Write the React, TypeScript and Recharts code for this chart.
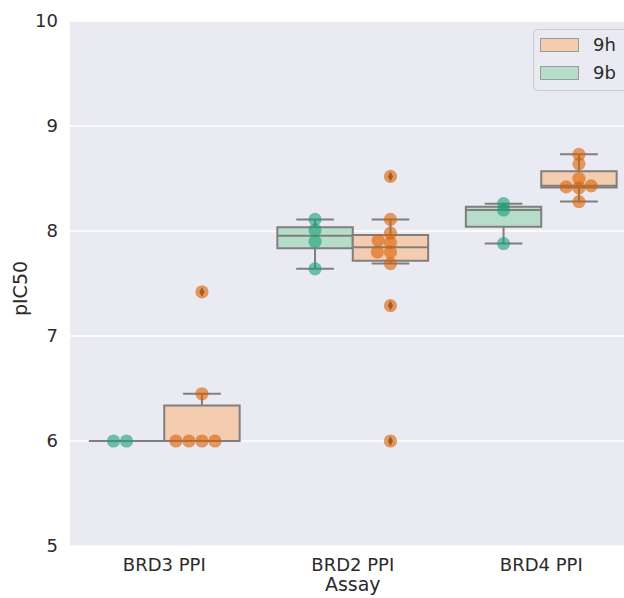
import React from 'react';
import {
  ComposedChart,
  XAxis,
  YAxis,
  CartesianGrid,
  Scatter,
  ReferenceArea,
  ReferenceLine,
  Legend,
} from 'recharts';

// ---------------- data ----------------
const CATEGORIES = ['BRD3 PPI', 'BRD2 PPI', 'BRD4 PPI'];
const Y_TICKS = [5, 6, 7, 8, 9, 10];
const X_LABEL = 'Assay';
const Y_LABEL = 'pIC50';

// pIC50 values per assay (same order as CATEGORIES)
const VALUES_9B = [
  [6.0, 6.0],
  [7.64, 7.9, 8.01, 8.11],
  [7.88, 8.2, 8.26],
];
const VALUES_9H = [
  [6.0, 6.0, 6.0, 6.0, 6.45, 7.42],
  [6.0, 7.29, 7.69, 7.8, 7.8, 7.89, 7.91, 7.98, 8.11, 8.52],
  [8.28, 8.41, 8.42, 8.43, 8.5, 8.64, 8.73],
];
const LEGEND_ORDER = ['9h', '9b'];

// ---------------- layout / style ----------------
const CHART_W = 640;
const CHART_H = 598;
const MARGIN = { top: 21, right: 4.5, bottom: 12, left: 10 };
const Y_AXIS_W = 60;
const X_AXIS_H = 40;
const PLOT_W = CHART_W - MARGIN.left - MARGIN.right - Y_AXIS_W;
const PLOT_H = CHART_H - MARGIN.top - MARGIN.bottom - X_AXIS_H;
const X_DOMAIN: [number, number] = [-0.5, 2.5];
const Y_DOMAIN: [number, number] = [5, 10];
const PX_PER_X = PLOT_W / (X_DOMAIN[1] - X_DOMAIN[0]);
const PX_PER_Y = PLOT_H / (Y_DOMAIN[1] - Y_DOMAIN[0]);
const SWARM_Y_STRETCH = 2;
const DOT_R = 6.6;
const SWARM_D = 12.4;
const BOX_W = 0.4;
const CAP_W = 0.2;
const EDGE = '#7f7f7f';
const FONT = "'DejaVu Sans', sans-serif";
const TEXT_COLOR = '#2b2b2b';

const HUES = [
  { name: '9b', values: VALUES_9B, offset: -0.2, boxFill: '#b6ddc9', dot: '#1b9e77' },
  { name: '9h', values: VALUES_9H, offset: 0.2, boxFill: '#f4cdb1', dot: '#d95f02' },
];

// ---------------- helpers ----------------
function pct(sorted: number[], p: number) {
  const idx = (sorted.length - 1) * p;
  const lo = Math.floor(idx);
  const hi = Math.ceil(idx);
  return sorted[lo] + (sorted[hi] - sorted[lo]) * (idx - lo);
}

function boxStats(values: number[]) {
  const s = [...values].sort((a, b) => a - b);
  const q1 = pct(s, 0.25);
  const med = pct(s, 0.5);
  const q3 = pct(s, 0.75);
  const iqr = q3 - q1;
  const loF = q1 - 1.5 * iqr;
  const hiF = q3 + 1.5 * iqr;
  const inside = s.filter((v) => v >= loF - 1e-9 && v <= hiF + 1e-9);
  const fliers = s.filter((v) => v < loF - 1e-9 || v > hiF + 1e-9);
  return { q1, med, q3, wLo: inside[0], wHi: inside[inside.length - 1], fliers };
}

// beeswarm offsets (px), seaborn-style
function swarm(values: number[]): number[] {
  const d = SWARM_D;
  const order = values.map((_, i) => i).sort((a, b) => values[a] - values[b]);
  const placed: { x: number; y: number }[] = [];
  const out = new Array(values.length).fill(0);
  for (const i of order) {
    const y = values[i] * PX_PER_Y * SWARM_Y_STRETCH;
    const neighbors = placed.filter((p) => Math.abs(p.y - y) < d);
    const cands: number[] = [0];
    let leftFirst = true;
    for (const n of neighbors) {
      const dy = y - n.y;
      const dx = Math.sqrt(Math.max(d * d - dy * dy, 0)) * 1.05;
      const l = n.x - dx;
      const r = n.x + dx;
      if (leftFirst) cands.push(l, r);
      else cands.push(r, l);
      leftFirst = !leftFirst;
    }
    const sorted = cands
      .map((c, k) => ({ c, k }))
      .sort((a, b) => Math.abs(a.c) - Math.abs(b.c) || a.k - b.k)
      .map((o) => o.c);
    const chosen =
      sorted.find((c) =>
        neighbors.every((n) => (n.x - c) ** 2 + (n.y - y) ** 2 >= d * d - 1e-6)
      ) ?? 0;
    placed.push({ x: chosen, y });
    out[i] = chosen;
  }
  return out;
}

const BOXES = HUES.flatMap((h) =>
  CATEGORIES.map((_, ci) => ({
    key: `${h.name}-${ci}`,
    center: ci + h.offset,
    fill: h.boxFill,
    ...boxStats(h.values[ci]),
  }))
);

const DOTS = HUES.map((h) => ({
  name: h.name,
  color: h.dot,
  data: CATEGORIES.flatMap((_, ci) => {
    const vals = h.values[ci];
    const offs = swarm(vals);
    return vals.map((v, k) => ({ x: ci + h.offset + offs[k] / PX_PER_X, y: v }));
  }),
}));

const FLIERS = BOXES.flatMap((b) => b.fliers.map((v) => ({ x: b.center, y: v })));

// ---------------- shapes ----------------
const Dot = (color: string) => (props: any) => {
  if (props.cx == null || props.cy == null) return null;
  return <circle cx={props.cx} cy={props.cy} r={DOT_R} fill={color} fillOpacity={0.6} />;
};

const Diamond = (props: any) => {
  if (props.cx == null || props.cy == null) return null;
  const { cx, cy } = props;
  return (
    <path
      d={`M${cx},${cy - 5} L${cx + 2.6},${cy} L${cx},${cy + 5} L${cx - 2.6},${cy} Z`}
      fill="#5a5a5a"
    />
  );
};

const LegendBox = () => (
  <div
    style={{
      width: 110,
      height: 62,
      border: '1px solid #cccccc',
      borderRadius: 4,
      background: '#eaeaf2',
      boxSizing: 'border-box',
      fontFamily: FONT,
      fontSize: 18,
      color: TEXT_COLOR,
      position: 'relative',
    }}
  >
    {LEGEND_ORDER.map((name, i) => {
      const h = HUES.find((x) => x.name === name)!;
      return (
        <div key={name} style={{ position: 'absolute', left: 6, top: 7 + i * 28, height: 16, display: 'flex', alignItems: 'center' }}>
          <div style={{ width: 39, height: 14, background: h.boxFill, border: '1px solid #9a9a9a', boxSizing: 'border-box' }} />
          <span style={{ marginLeft: 14, lineHeight: '16px' }}>{name}</span>
        </div>
      );
    })}
  </div>
);

export default function App() {
  return (
    <div
      style={{
        position: 'absolute',
        left: 0,
        top: 0,
        width: 624,
        height: 598,
        overflow: 'hidden',
        background: '#ffffff',
      }}
    >
      <ComposedChart width={CHART_W} height={CHART_H} margin={MARGIN}>
        <CartesianGrid vertical={false} stroke="#ffffff" strokeWidth={1.3} fill="#eaeaf2" fillOpacity={1} />
        <XAxis
          type="number"
          dataKey="x"
          domain={X_DOMAIN}
          ticks={[0, 1, 2]}
          interval={0}
          allowDataOverflow
          tickFormatter={(v: number) => CATEGORIES[v] ?? ''}
          axisLine={false}
          tickLine={false}
          tickSize={0}
          tickMargin={12}
          height={X_AXIS_H}
          tick={{ fontSize: 18, fill: TEXT_COLOR, fontFamily: FONT }}
          label={(p: any) => {
            const vb = p.viewBox;
            return (
              <text x={vb.x + vb.width / 2} y={vb.y + 45} textAnchor="middle" fontSize={19} fontFamily={FONT} fill={TEXT_COLOR}>
                {X_LABEL}
              </text>
            );
          }}
        />
        <YAxis
          type="number"
          dataKey="y"
          domain={Y_DOMAIN}
          ticks={Y_TICKS}
          interval={0}
          allowDataOverflow
          axisLine={false}
          tickLine={false}
          tickSize={0}
          tickMargin={12}
          width={Y_AXIS_W}
          tick={{ fontSize: 18, fill: TEXT_COLOR, fontFamily: FONT }}
          label={(p: any) => {
            const vb = p.viewBox;
            const x = vb.x + 16.6;
            const y = vb.y + vb.height / 2 + 5;
            return (
              <text x={x} y={y} transform={`rotate(-90 ${x} ${y})`} textAnchor="middle" fontSize={19} fontFamily={FONT} fill={TEXT_COLOR}>
                {Y_LABEL}
              </text>
            );
          }}
        />
        {BOXES.map((b) => (
          <ReferenceArea
            key={`area-${b.key}`}
            x1={b.center - BOX_W / 2}
            x2={b.center + BOX_W / 2}
            y1={b.q1}
            y2={b.q3}
            fill={b.fill}
            fillOpacity={1}
            stroke={EDGE}
            strokeWidth={2}
            ifOverflow="visible"
          />
        ))}
        {BOXES.flatMap((b) => [
          <ReferenceLine key={`wl-${b.key}`} segment={[{ x: b.center, y: b.wLo }, { x: b.center, y: b.q1 }]} stroke={EDGE} strokeWidth={2} ifOverflow="visible" />,
          <ReferenceLine key={`wh-${b.key}`} segment={[{ x: b.center, y: b.q3 }, { x: b.center, y: b.wHi }]} stroke={EDGE} strokeWidth={2} ifOverflow="visible" />,
          <ReferenceLine key={`cl-${b.key}`} segment={[{ x: b.center - CAP_W / 2, y: b.wLo }, { x: b.center + CAP_W / 2, y: b.wLo }]} stroke={EDGE} strokeWidth={2} ifOverflow="visible" />,
          <ReferenceLine key={`ch-${b.key}`} segment={[{ x: b.center - CAP_W / 2, y: b.wHi }, { x: b.center + CAP_W / 2, y: b.wHi }]} stroke={EDGE} strokeWidth={2} ifOverflow="visible" />,
          <ReferenceLine key={`md-${b.key}`} segment={[{ x: b.center - BOX_W / 2, y: b.med }, { x: b.center + BOX_W / 2, y: b.med }]} stroke={EDGE} strokeWidth={2} ifOverflow="visible" />,
        ])}
        <Scatter name="fliers" data={FLIERS} shape={Diamond} isAnimationActive={false} legendType="none" />
        {DOTS.map((s) => (
          <Scatter key={s.name} name={s.name} data={s.data} shape={Dot(s.color)} isAnimationActive={false} />
        ))}
        <Legend
          layout="horizontal"
          verticalAlign="middle"
          align="center"
          content={() => <LegendBox />}
          wrapperStyle={{ position: 'absolute', left: 533, top: 29, width: 110, height: 62 }}
        />
      </ComposedChart>
    </div>
  );
}
